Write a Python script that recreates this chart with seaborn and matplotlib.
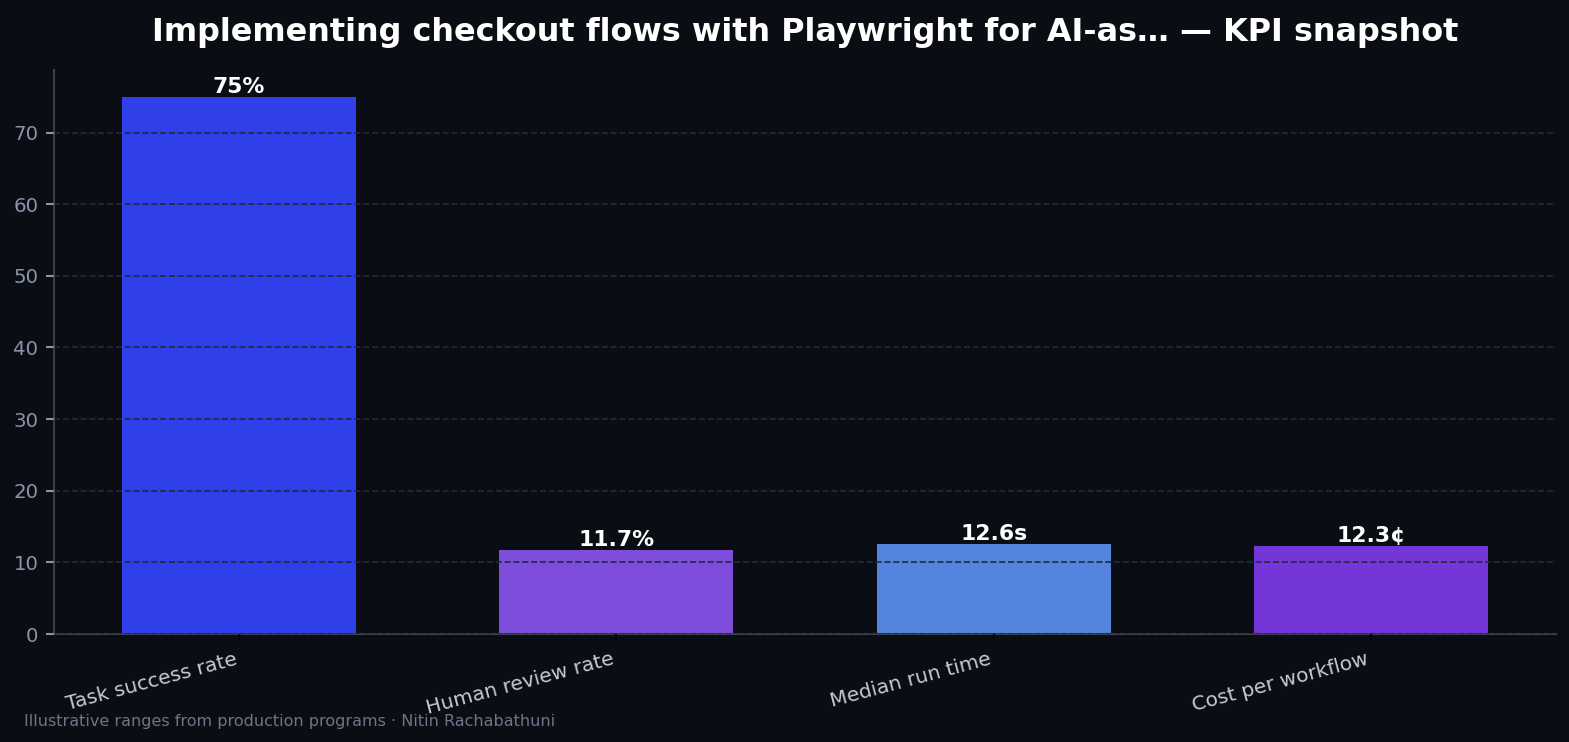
import pandas as pd
import numpy as np
import matplotlib.pyplot as plt
import seaborn as sns

# KPI values
metrics = ["Task success rate", "Human review rate", "Median run time", "Cost per workflow"]
values = [75, 11.7, 12.6, 12.3]
value_labels = ["75%", "11.7%", "12.6s", "12.3¢"]
bar_colors = ["#2f40ea", "#7f4ddb", "#5584de", "#7436d8"]

bg = "#0a0d14"
bar_width = 0.62

sns.set_theme(style="dark")
plt.rcParams['font.family'] = ['DejaVu Sans']

df = pd.DataFrame({"metric": metrics, "value": values})

fig, ax = plt.subplots(figsize=(10.46, 4.947), dpi=150)
fig.patch.set_facecolor(bg)
ax.set_facecolor(bg)

sns.barplot(data=df, x="metric", y="value", hue="metric", palette=bar_colors,
            width=bar_width, legend=False, saturation=1, linewidth=0, ax=ax)

# matplotlib-style 5% margins instead of seaborn's +-0.5 categorical limits
span = (len(metrics) - 1) + bar_width
pad_x = 0.05 * span
ax.set_xlim(-bar_width / 2 - pad_x, len(metrics) - 1 + bar_width / 2 + pad_x)
ax.set_ylim(0, max(values) * 1.05)
ax.yaxis.grid(True, linestyle="--", color="#232a3a", linewidth=0.8)
ax.xaxis.grid(False)
ax.set_axisbelow(False)

for patch, lab in zip(ax.patches, value_labels):
    ax.annotate(lab, (patch.get_x() + patch.get_width() / 2, patch.get_height()),
                xytext=(0, 0), textcoords="offset points", ha="center", va="bottom",
                color="white", fontsize=10.5, fontweight="bold")

for side in ["top", "right"]:
    ax.spines[side].set_visible(False)
for side in ["left", "bottom"]:
    ax.spines[side].set_color("#383f4e")
    ax.spines[side].set_linewidth(1)

ax.tick_params(axis="y", colors="#8a94a8", labelsize=9.5, length=4, width=1, left=True)
ax.tick_params(axis="x", colors="#05070a", labelcolor="#c5cad6", labelsize=9.7, length=4, width=1, bottom=True)
plt.setp(ax.get_xticklabels(), rotation=15, ha="right")
ax.set_xlabel("")
ax.set_ylabel("")

ax.set_title("Implementing checkout flows with Playwright for AI-as… — KPI snapshot",
             color="white", fontsize=15.3, fontweight="bold", pad=14)

fig.text(0.0153, 0.022, "Illustrative ranges from production programs · Nitin Rachabathuni",
         color="#6b7689", fontsize=7.7)

plt.subplots_adjust(left=0.0344, right=0.9917, bottom=0.1456, top=0.9057)
plt.savefig("out.png", dpi=150, facecolor=bg)
